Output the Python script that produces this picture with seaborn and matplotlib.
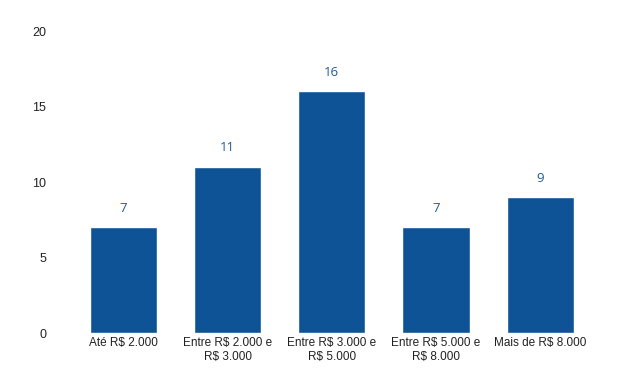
import matplotlib
matplotlib.use("Agg")
import matplotlib.pyplot as plt
import pandas as pd
import seaborn as sns

categories = [
    "Até R$ 2.000",
    "Entre R$ 2.000 e\nR$ 3.000",
    "Entre R$ 3.000 e\nR$ 5.000",
    "Entre R$ 5.000 e\nR$ 8.000",
    "Mais de R$ 8.000",
]
counts = [7, 11, 16, 7, 9]
yticks = [0, 5, 10, 15, 20]

sns.set_theme(style="white")
plt.rcParams["font.family"] = ["Liberation Sans", "DejaVu Sans"]

df = pd.DataFrame({"faixa": categories, "n": counts})

fig = plt.figure(figsize=(6.32, 3.83), dpi=100)
ax = fig.add_axes([0.113, 0.1305, 0.824, 0.7885])
sns.barplot(data=df, x="faixa", y="n", color="#0E5395", saturation=1,
            width=0.645, ax=ax)

# value labels above each bar
for i, v in enumerate(counts):
    ax.annotate(str(v), (i, v), xytext=(0, 9), textcoords="offset points",
                ha="center", va="bottom", fontsize=9.5, color="#1F5A96",
                family=["Open Sans", "DejaVu Sans"])

ax.set_ylim(0, 20)
ax.set_xlim(-0.5, 4.5)
ax.set_yticks(yticks)
ax.set_xlabel("")
ax.set_ylabel("")
ax.tick_params(axis="y", length=0, pad=18, labelsize=9, labelcolor="#222222")
ax.tick_params(axis="x", length=0, pad=3, labelsize=8.5, labelcolor="#222222")
sns.despine(ax=ax, left=True, bottom=True)

fig.savefig("out.png", dpi=100)
